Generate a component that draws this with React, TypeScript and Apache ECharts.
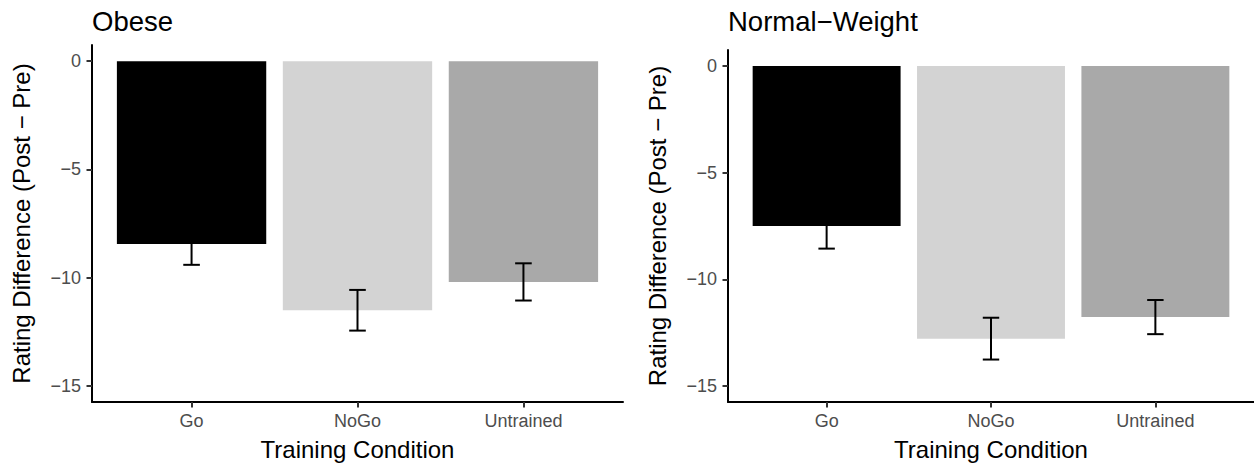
import React, { useEffect, useRef } from "react";
import * as echarts from "echarts";

const categories = ["Go", "NoGo", "Untrained"];
const barColors = ["#000000", "#D3D3D3", "#A9A9A9"];
const panelTitles = ["Obese", "Normal\u2212Weight"];
const obeseMeans = [-8.45, -11.51, -10.2];
const obeseSE = [0.96, 0.94, 0.86];
const normalMeans = [-7.5, -12.78, -11.77];
const normalSE = [1.06, 0.98, 0.8];
const yTicks = [0, -5, -10, -15];
const yTitle = "Rating Difference (Post \u2212 Pre)";
const xTitle = "Training Condition";

const FONT = "'Liberation Sans', Arial, Helvetica, sans-serif";

export default function App() {
  const ref = useRef<HTMLDivElement>(null);
  useEffect(() => {
    document.body.style.margin = "0";
    if (!ref.current) return;
    const chart = echarts.init(ref.current, null, { renderer: "svg" });

    const grids = [
      { left: 92, top: 45, width: 531, height: 357 },
      { left: 728, top: 50, width: 526, height: 352 },
    ];

    const xAxisOf = (gi: number) => ({
      type: "value",
      gridIndex: gi,
      min: 0.4,
      max: 3.6,
      splitLine: { show: false },
      axisLine: { show: true, onZero: false, lineStyle: { color: "#000", width: 2 } },
      axisTick: { show: true, customValues: [1, 2, 3], length: 5.5, lineStyle: { color: "#333", width: 2 } },
      axisLabel: {
        customValues: [1, 2, 3],
        formatter: (v: number) => categories[Math.round(v) - 1] ?? "",
        fontSize: 18,
        color: "#4D4D4D",
        fontFamily: FONT,
        margin: 10,
      },
      name: xTitle,
      nameLocation: "middle",
      nameGap: 35,
      nameTextStyle: { fontSize: 24, color: "#000", fontFamily: FONT },
    });

    const yAxisOf = (gi: number) => ({
      type: "value",
      gridIndex: gi,
      min: -15.75,
      max: 0.75,
      splitLine: { show: false },
      axisLine: { show: true, onZero: false, lineStyle: { color: "#000", width: 2 } },
      axisTick: { show: true, customValues: yTicks, length: 5.5, lineStyle: { color: "#333", width: 2 } },
      axisLabel: {
        customValues: yTicks,
        formatter: (v: number) => (v === 0 ? "0" : (v < 0 ? "\u2212" : "") + Math.abs(v)),
        fontSize: 18,
        color: "#4D4D4D",
        fontFamily: FONT,
        margin: 11,
      },
      name: yTitle,
      nameLocation: "middle",
      nameRotate: 90,
      nameGap: 59,
      nameTextStyle: { fontSize: 24, color: "#000", fontFamily: FONT },
    });

    const barSeries = (gi: number, means: number[]) => ({
      type: "custom",
      xAxisIndex: gi,
      yAxisIndex: gi,
      data: means.map((m, i) => [i + 1, m, i]),
      encode: { x: 0, y: 1 },
      renderItem: (params: any, api: any) => {
        const x = api.value(0);
        const v = api.value(1);
        const idx = api.value(2);
        const p0 = api.coord([x - 0.45, 0]);
        const p1 = api.coord([x + 0.45, v]);
        return {
          type: "rect",
          shape: { x: p0[0], y: p0[1], width: p1[0] - p0[0], height: p1[1] - p0[1] },
          style: { fill: barColors[idx] },
        };
      },
    });

    const errSeries = (gi: number, means: number[], se: number[]) => ({
      type: "custom",
      xAxisIndex: gi,
      yAxisIndex: gi,
      data: means.map((m, i) => [i + 1, m - se[i], m + se[i]]),
      encode: { x: 0, y: [1, 2] },
      renderItem: (params: any, api: any) => {
        const x = api.value(0);
        const lo = api.value(1);
        const hi = api.value(2);
        const a = api.coord([x - 0.05, lo]);
        const b = api.coord([x + 0.05, hi]);
        const c = api.coord([x, lo]);
        const d = api.coord([x, hi]);
        const st = { stroke: "#000", lineWidth: 2 };
        return {
          type: "group",
          children: [
            { type: "line", shape: { x1: c[0], y1: c[1], x2: d[0], y2: d[1] }, style: st },
            { type: "line", shape: { x1: a[0], y1: a[1], x2: b[0], y2: a[1] }, style: st },
            { type: "line", shape: { x1: a[0], y1: b[1], x2: b[0], y2: b[1] }, style: st },
          ],
        };
      },
    });

    chart.setOption({
      animation: false,
      backgroundColor: "#fff",
      title: [
        { text: panelTitles[0], left: 92, top: 7, padding: 0, textStyle: { fontSize: 27.5, fontWeight: "normal", color: "#000", fontFamily: FONT } },
        { text: panelTitles[1], left: 728, top: 7, padding: 0, textStyle: { fontSize: 27.5, fontWeight: "normal", color: "#000", fontFamily: FONT } },
      ],
      grid: grids,
      xAxis: [xAxisOf(0), xAxisOf(1)],
      yAxis: [yAxisOf(0), yAxisOf(1)],
      series: [
        barSeries(0, obeseMeans),
        errSeries(0, obeseMeans, obeseSE),
        barSeries(1, normalMeans),
        errSeries(1, normalMeans, normalSE),
      ],
    });
    return () => chart.dispose();
  }, []);
  return <div ref={ref} style={{ width: 1254, height: 466 }} />;
}
